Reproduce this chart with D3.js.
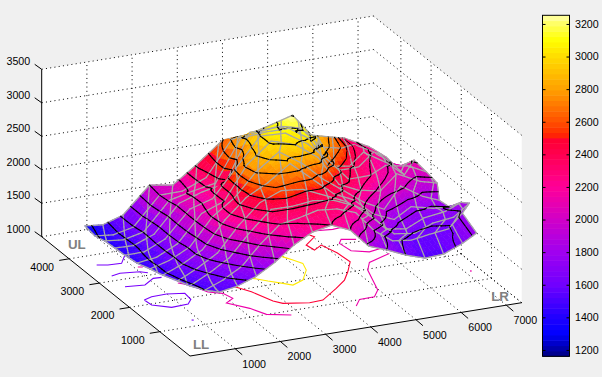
<!DOCTYPE html>
<html>
<head>
<meta charset="utf-8">
<script src="https://cdn.jsdelivr.net/npm/d3@7"></script>
<style>
  html, body { margin: 0; padding: 0; background: #f0f0f0; }
  svg { display: block; font-family: "Liberation Sans", Arial, sans-serif; }
</style>
</head>
<body>
<div id="chart"></div>
<script>
const xTicks = [1000, 2000, 3000, 4000, 5000, 6000, 7000]
const yTicks = [1000, 2000, 3000, 4000]
const zTicks = [1000, 1500, 2000, 2500, 3000, 3500]
const colorTicks = [1200, 1400, 1600, 1800, 2000, 2200, 2400, 2600, 2800, 3000, 3200]

// corners of the scene, read at z = 1000
const cornerLabels = ['UL', 'LL', 'LR']
const cornerX = [200, 215, 6815]
const cornerY = [4340, 224, 223]

// colormap stops
const rampValues = [1161, 1300, 1400, 1600, 1800, 2000, 2200, 2400, 2500, 2520, 2600, 2800, 3000, 3100, 3200, 3253]
const rampColors = ['#000080', '#0000ff', '#2000ff', '#7000ff', '#a000f0', '#d000c8', '#ff0098', '#ff0050', '#ff0030', '#ff2800', '#ff5000', '#ffa000', '#ffdc00', '#ffff00', '#ffff60', '#ffffb0']

// surface edges (map coordinates)
const frontX = [1200, 1610, 2030, 2440, 2860, 3270, 3690, 4100, 4510, 4930, 5340, 5760, 6170, 6590, 6900]
const frontY = [835, 835, 835, 835, 835, 835, 835, 835, 835, 835, 835, 835, 835, 835, 835]
const backX = [540, 710, 1000, 1640, 2020, 2370, 3065, 3345, 3630, 3945, 4310, 5030, 5850, 6260, 6415]
const backY = [4281, 3948, 3712, 3791, 3592, 3319, 3506, 3034, 2700, 2504, 2426, 2818, 3633, 3437, 3103]
const leftX = [1200, 1020, 870, 760, 635, 570, 477, 450, 460, 470, 450, 540]
const leftY = [835, 1031, 1306, 1542, 1846, 2175, 2470, 2828, 3177, 3520, 3815, 4281]
const rightX = [6900, 7070, 7350, 7220, 7050, 6940, 7065, 6970, 6860, 6495, 6450, 6415]
const rightY = [835, 1561, 1748, 1826, 1964, 2131, 2386, 2602, 2843, 2622, 2853, 3103]

// elevation on the warped mesh: row 0 is the front edge, last row the back edge
const zGrid = [
  [1522, 1567, 1670, 1834, 2043, 2193, 2251, 2133, 1849, 1743, 1624, 1534, 1549, 1667, 1784],
  [1500, 1600, 1750, 2020, 2250, 2290, 2335, 2305, 2200, 1870, 1660, 1590, 1580, 1605, 1800],
  [1480, 1630, 1810, 2120, 2400, 2395, 2395, 2365, 2245, 1990, 1710, 1615, 1640, 1675, 1850],
  [1480, 1640, 1830, 2170, 2460, 2600, 2525, 2420, 2300, 2120, 1790, 1675, 1680, 1730, 1850],
  [1470, 1620, 1810, 2170, 2470, 2665, 2850, 2620, 2390, 2260, 2000, 1790, 1795, 1730, 1750],
  [1450, 1580, 1760, 2130, 2380, 2760, 2950, 2800, 2560, 2365, 2150, 1900, 2030, 1845, 1800],
  [1440, 1540, 1730, 2090, 2250, 2790, 3020, 3000, 2820, 2395, 2260, 2090, 2095, 1955, 1950],
  [1430, 1510, 1700, 2050, 2190, 2650, 3000, 3100, 2960, 2700, 2380, 2260, 2130, 2100, 2050],
  [1410, 1490, 1670, 2030, 2190, 2330, 2960, 3110, 3130, 2980, 2455, 2320, 2230, 1990, 2150],
  [1390, 1480, 1630, 2010, 2160, 2320, 2860, 3060, 3175, 3040, 2610, 2420, 2300, 2150, 2050],
  [1360, 1460, 1620, 2000, 2080, 2330, 2760, 2990, 3150, 3150, 2850, 2620, 2320, 2200, 2100],
  [1330, 1450, 1650, 2000, 2030, 2400, 2620, 2850, 3090, 3260, 2950, 2700, 2300, 2200, 2150]
]

// contour levels on the surface
const blackLevels = [1250, 1375, 1500, 1625, 1750, 1875, 2000, 2125, 2250, 2375, 2500, 2625, 2750, 2875, 3000, 3125, 3250]

// contours on the floor, as [x, y] runs, one entry per line
const floorLevels = [1620, 1620, 1620, 1620, 1620, 2130, 2130, 2130, 2130, 2130, 2130, 2500, 3040]
const floorLines = [
  [[364, 3635], [572, 3573], [863, 3556], [1114, 3822]],
  [[389, 3175], [603, 3223], [1008, 3167], [1132, 3088]],
  [[389, 2735], [796, 2683], [1102, 2867], [1279, 2855]],
  [[440, 2173], [651, 2245], [989, 2255], [1342, 2179], [1315, 1939], [1158, 1793], [777, 1771], [461, 1960], [440, 2173]],
  [[854, 1226], [890, 1210]],
  [[1449, 2570], [1624, 2435], [1795, 2096], [2041, 1969], [2111, 1742], [1887, 1616], [2195, 1305], [2365, 1007], [2809, 846]],
  [[1078, 3340], [1170, 3312]],
  [[5197, 3600], [5535, 3556], [5809, 3581]],
  [[5736, 3084], [5460, 3167], [5337, 3039], [5383, 2721], [5697, 2585], [6119, 2665]],
  [[6029, 2421], [5455, 2222], [5248, 1968], [4974, 1226], [4760, 1015], [4425, 1008], [4211, 796]],
  [[7150, 1398], [7105, 1330]],
  [[2413, 2129], [2606, 1865], [2791, 1428], [2922, 1294], [3427, 1167], [3734, 1187], [4247, 1514], [4590, 1753], [4841, 2019], [5114, 2349], [5079, 2718], [4962, 3081], [4724, 2947], [4686, 3164], [5028, 3403], [4975, 3489]],
  [[2942, 2316], [3156, 2142], [3380, 1980], [3525, 1866], [3823, 1983], [4114, 2307], [4205, 2556], [4097, 2724], [4005, 2862], [3865, 3081]]
]

const width = 602, height = 377
const originX = 190, originY = 356
const subdiv = 4

const xToH = d3.scaleLinear().domain([0, 7340]).range([0, 331.7])
const xToV = d3.scaleLinear().domain([0, 7340]).range([0, -53.3])
const yToH = d3.scaleLinear().domain([0, 4910]).range([0, -148.3])
const yToV = d3.scaleLinear().domain([0, 4910]).range([0, -119.3])
const zToV = d3.scaleLinear().domain([1000, 3500]).range([0, -167.4])

const project = (x, y, z) => [originX + xToH(x) + yToH(y), originY + xToV(x) + yToV(y) + zToV(z)]
const floorDepth = (x, y) => originY + xToV(x) + yToV(y)
const xMax = xToH.domain()[1], yMax = yToH.domain()[1], zMin = zToV.domain()[0], zMax = zToV.domain()[1]

const ramp = d3.scaleLinear().domain(rampValues).range(rampColors)
const colorDomain = [rampValues[0], rampValues[rampValues.length - 1]]
const bandStep = (colorDomain[1] - colorDomain[0]) / 64
const bandColors = d3.range(64).map(i => ramp(colorDomain[0] + (i + 0.5) * bandStep))
const colormap = d3.scaleQuantize().domain(colorDomain).range(bandColors)

const svg = d3.select('#chart').append('svg').attr('width', width).attr('height', height)
svg.append('rect').attr('width', width).attr('height', height).attr('fill', '#f0f0f0')

const line = d3.line()
const segment = (a, b) => `M${a[0].toFixed(2)},${a[1].toFixed(2)}L${b[0].toFixed(2)},${b[1].toFixed(2)}`

// white walls and floor
svg.append('path')
  .attr('d', line([
    project(0, 0, zMin), project(0, yMax, zMin), project(0, yMax, zMax),
    project(xMax, yMax, zMax), project(xMax, 0, zMax), project(xMax, 0, zMin)
  ]) + 'Z')
  .attr('fill', '#fff')

// dotted grid
const grid = svg.append('g').attr('fill', 'none').attr('stroke', '#000').attr('stroke-dasharray', '1 3.3')
const gridLines = []
xTicks.forEach(x => {
  gridLines.push([project(x, 0, zMin), project(x, yMax, zMin)])
  gridLines.push([project(x, yMax, zMin), project(x, yMax, zMax)])
})
yTicks.forEach(y => {
  gridLines.push([project(0, y, zMin), project(xMax, y, zMin)])
  gridLines.push([project(xMax, y, zMin), project(xMax, y, zMax)])
})
zTicks.forEach(z => {
  gridLines.push([project(0, yMax, z), project(xMax, yMax, z)])
  gridLines.push([project(xMax, yMax, z), project(xMax, 0, z)])
})
gridLines.push([project(xMax, yMax, zMin), project(xMax, 0, zMin)])
grid.selectAll('path').data(gridLines).join('path').attr('d', d => line(d))

// solid axes and ticks
const axes = svg.append('g').attr('fill', 'none').attr('stroke', '#000')
axes.append('path').attr('d', line([project(0, yMax, zMax), project(0, yMax, zMin), project(0, 0, zMin), project(xMax, 0, zMin)]))
xTicks.forEach(x => {
  const p = project(x, 0, zMin)
  axes.append('path').attr('d', segment(p, [p[0] + 7, p[1] + 6]))
})
yTicks.forEach(y => {
  const p = project(0, y, zMin)
  axes.append('path').attr('d', segment(p, [p[0] - 10, p[1] + 1.6]))
})
zTicks.forEach(z => {
  const p = project(0, yMax, z)
  axes.append('path').attr('d', segment(p, [p[0] - 7, p[1] - 5]))
})

const labels = svg.append('g').attr('font-size', 10.67).attr('fill', '#000')
xTicks.forEach(x => {
  const p = project(x, 0, zMin)
  labels.append('text').attr('x', p[0] + 19).attr('y', p[1] + 19).attr('text-anchor', 'middle').text(x)
})
yTicks.forEach(y => {
  const p = project(0, y, zMin)
  labels.append('text').attr('x', p[0] - 27).attr('y', p[1] + 12).attr('text-anchor', 'middle').text(y)
})
zTicks.forEach(z => {
  const p = project(0, yMax, z)
  labels.append('text').attr('x', p[0] - 11.5).attr('y', p[1] - 4).attr('text-anchor', 'end').text(z)
})

// floor contours
svg.append('g').attr('fill', 'none').attr('stroke-width', 1.1)
  .selectAll('path').data(floorLines).join('path')
  .attr('stroke', (d, i) => colormap(floorLevels[i]))
  .attr('d', d => line(d.map(p => project(p[0], p[1], zMin))))

cornerLabels.forEach((name, i) => {
  const p = project(cornerX[i], cornerY[i], zMin)
  svg.append('text').attr('x', p[0]).attr('y', p[1]).attr('font-size', 13.3).attr('font-weight', 'bold').attr('fill', '#808080').text(name)
})

// mesh vertices: blend of the four edges
const nRows = zGrid.length, nCols = zGrid[0].length
const blend = (front, back, left, right) => d3.range(nRows).map(i => d3.range(nCols).map(j => {
  const s = j / (nCols - 1), t = i / (nRows - 1)
  return (1 - t) * front[j] + t * back[j] + (1 - s) * left[i] + s * right[i]
    - ((1 - s) * (1 - t) * front[0] + s * (1 - t) * front[nCols - 1] + (1 - s) * t * back[0] + s * t * back[nCols - 1])
}))
const gridX = blend(frontX, backX, leftX, rightX)
const gridY = blend(frontY, backY, leftY, rightY)

// u runs along columns, v along rows, both in mesh steps
function surfacePoint(u, v) {
  const j = Math.min(Math.floor(u), nCols - 2), i = Math.min(Math.floor(v), nRows - 2)
  const a = u - j, b = v - i
  const mix = m => (1 - a) * (1 - b) * m[i][j] + a * (1 - b) * m[i][j + 1] + (1 - a) * b * m[i + 1][j] + a * b * m[i + 1][j + 1]
  const x = mix(gridX), y = mix(gridY), z = mix(zGrid)
  const p = project(x, y, z)
  return { x, y, z, px: p[0], py: p[1], depth: floorDepth(x, y) }
}

// everything on the surface goes in one list, sorted back to front
const items = []
const crossing = (a, b, level) => {
  if ((a.z < level) === (b.z < level)) return null
  const t = (level - a.z) / (b.z - a.z)
  return [a.px + t * (b.px - a.px), a.py + t * (b.py - a.py)]
}
for (let v = 0; v < (nRows - 1) * subdiv; v++) {
  for (let u = 0; u < (nCols - 1) * subdiv; u++) {
    const c00 = surfacePoint(u / subdiv, v / subdiv)
    const c10 = surfacePoint((u + 1) / subdiv, v / subdiv)
    const c11 = surfacePoint((u + 1) / subdiv, (v + 1) / subdiv)
    const c01 = surfacePoint(u / subdiv, (v + 1) / subdiv)
    const key = (c00.depth + c10.depth + c11.depth + c01.depth) / 4
    const fill = colormap((c00.z + c10.z + c11.z + c01.z) / 4)
    items.push({
      key, fill, stroke: fill, width: 0.7,
      d: line([c00, c10, c11, c01].map(p => [p.px, p.py])) + 'Z'
    })
    blackLevels.forEach(level => {
      const hits = [crossing(c00, c10, level), crossing(c10, c11, level), crossing(c11, c01, level), crossing(c01, c00, level)].filter(Boolean)
      for (let h = 0; h + 1 < hits.length; h += 2) {
        items.push({ key: key + 3.5, fill: 'none', stroke: '#000', width: 1.1, d: segment(hits[h], hits[h + 1]) })
      }
    })
  }
}

function pushGray(a, b) {
  const key = (a.depth + b.depth) / 2 + 3
  items.push({ key, fill: 'none', stroke: '#a8a8a8', width: 1.25, d: segment([a.px, a.py], [b.px, b.py]) })
}
const fineRows = (nRows - 1) * subdiv, fineCols = (nCols - 1) * subdiv
for (let i = 0; i < nRows; i++) {
  for (let u = 0; u < fineCols; u++) {
    pushGray(surfacePoint(u / subdiv, i), surfacePoint((u + 1) / subdiv, i))
  }
}
// the mesh lines across the rows lean over the warped columns
for (let c = -4; c < nCols - 1; c++) {
  const lean = c <= 0 ? 5 : 5 - 2 * c / (nCols - 1)
  const at = v => c + lean * v / (nRows - 1)
  for (let k = 0; k < fineRows; k++) {
    const v0 = k / subdiv, v1 = (k + 1) / subdiv
    const u0 = at(v0), u1 = at(v1)
    if (u0 < 0 || u1 < 0 || u0 > nCols - 1 || u1 > nCols - 1) continue
    pushGray(surfacePoint(u0, v0), surfacePoint(u1, v1))
  }
}
for (let k = 0; k < fineRows; k++) {
  pushGray(surfacePoint(0, k / subdiv), surfacePoint(0, (k + 1) / subdiv))
  pushGray(surfacePoint(nCols - 1, k / subdiv), surfacePoint(nCols - 1, (k + 1) / subdiv))
}

items.sort((a, b) => d3.ascending(a.key, b.key))
svg.append('g').attr('stroke-linecap', 'round')
  .selectAll('path').data(items).join('path')
  .attr('d', d => d.d)
  .attr('fill', d => d.fill)
  .attr('stroke', d => d.stroke)
  .attr('stroke-width', d => d.width)

// colorbar
const barLeft = 542.5, barRight = 569.5
const barScale = d3.scaleLinear().domain(colorDomain).range([356.3, 15.3])
svg.append('g').selectAll('rect').data(bandColors).join('rect')
  .attr('x', barLeft).attr('width', barRight - barLeft)
  .attr('y', (d, i) => barScale(colorDomain[0] + (i + 1) * bandStep))
  .attr('height', (d, i) => barScale(colorDomain[0] + i * bandStep) - barScale(colorDomain[0] + (i + 1) * bandStep) + 0.5)
  .attr('fill', d => d)
svg.append('rect').attr('x', barLeft).attr('y', 15.3).attr('width', barRight - barLeft).attr('height', 341)
  .attr('fill', 'none').attr('stroke', '#000')
const barRightAxis = svg.append('g').attr('transform', `translate(${barRight},0)`)
  .call(d3.axisRight(barScale).tickValues(colorTicks).tickSize(-3).tickPadding(5.5).tickFormat(d3.format('d')))
const barLeftAxis = svg.append('g').attr('transform', `translate(${barLeft},0)`)
  .call(d3.axisLeft(barScale).tickValues(colorTicks).tickSize(-3).tickFormat(''))
barRightAxis.selectAll('.domain').remove()
barLeftAxis.selectAll('.domain').remove()
barRightAxis.selectAll('text').attr('font-size', 10.67).attr('font-family', '"Liberation Sans", Arial, sans-serif').attr('fill', '#000')
</script>
</body>
</html>
